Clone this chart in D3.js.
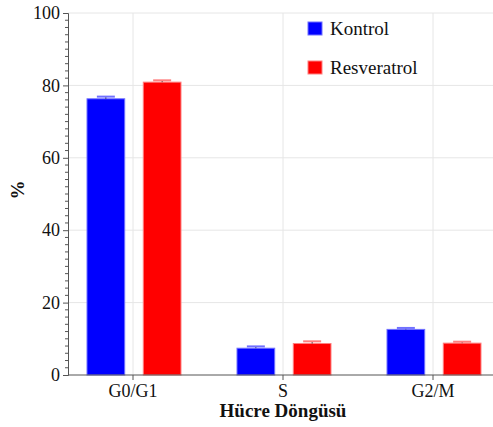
<!DOCTYPE html>
<html>
<head>
<meta charset="utf-8">
<script src="https://cdn.jsdelivr.net/npm/d3@7"></script>
<style>
  body { margin: 0; background: #fff; }
  svg text { font-family: "Liberation Serif", "Times New Roman", serif; fill: #111; }
</style>
</head>
<body>
<div id="chart"></div>
<script>
// data
const phases = ["G0/G1", "S", "G2/M"];
const groups = ["Kontrol", "Resveratrol"];
const kontrol = [76.3, 7.4, 12.6];
const kontrolErr = [0.6, 0.5, 0.4];
const resveratrol = [80.9, 8.7, 8.8];
const resveratrolErr = [0.5, 0.6, 0.4];
const yTicks = [0, 20, 40, 60, 80, 100];

const colors = { Kontrol: "#0000ff", Resveratrol: "#ff0000" };
const edge = { Kontrol: "#7070ff", Resveratrol: "#ff8080" };

const width = 493, height = 427;
const svg = d3.select("#chart").append("svg")
    .attr("width", width)
    .attr("height", height);

// scales
const y = d3.scaleLinear().domain([0, 100]).range([375, 13]);
const x = d3.scaleBand().domain(phases).range([58, 508]).padding(0);
const xSub = d3.scaleBand().domain(groups).range([29, 123]).paddingInner(0.33);

const axisLeft = 68, axisRight = 493;

// grid lines
svg.append("g").selectAll("line")
    .data(yTicks.filter(d => d > 0))
    .join("line")
    .attr("x1", axisLeft).attr("x2", axisRight)
    .attr("y1", d => y(d)).attr("y2", d => y(d))
    .attr("stroke", "#e6e6e6").attr("stroke-width", 1);

svg.append("g").selectAll("line")
    .data(phases)
    .join("line")
    .attr("x1", d => x(d) + x.bandwidth() / 2).attr("x2", d => x(d) + x.bandwidth() / 2)
    .attr("y1", y(100)).attr("y2", y(0))
    .attr("stroke", "#e6e6e6").attr("stroke-width", 1);

// flatten rows
const rows = [];
phases.forEach((p, i) => {
    rows.push({ phase: p, group: "Kontrol", value: kontrol[i], err: kontrolErr[i] });
    rows.push({ phase: p, group: "Resveratrol", value: resveratrol[i], err: resveratrolErr[i] });
});

const bx = d => x(d.phase) + xSub(d.group);

// bars
svg.append("g").selectAll("rect")
    .data(rows)
    .join("rect")
    .attr("x", d => bx(d))
    .attr("y", d => y(d.value))
    .attr("width", xSub.bandwidth())
    .attr("height", d => y(0) - y(d.value))
    .attr("fill", d => colors[d.group])
    .attr("stroke", d => edge[d.group])
    .attr("stroke-width", 1);

// error bars
const eb = svg.append("g");
eb.selectAll("line.stem")
    .data(rows)
    .join("line")
    .attr("class", "stem")
    .attr("x1", d => bx(d) + xSub.bandwidth() / 2).attr("x2", d => bx(d) + xSub.bandwidth() / 2)
    .attr("y1", d => y(d.value)).attr("y2", d => y(d.value + d.err))
    .attr("stroke", "#333").attr("stroke-width", 1);
eb.selectAll("line.cap")
    .data(rows)
    .join("line")
    .attr("class", "cap")
    .attr("x1", d => bx(d) + xSub.bandwidth() / 2 - 9).attr("x2", d => bx(d) + xSub.bandwidth() / 2 + 9)
    .attr("y1", d => y(d.value + d.err)).attr("y2", d => y(d.value + d.err))
    .attr("stroke", d => edge[d.group]).attr("stroke-width", 2);

// y axis
const yAxis = d3.axisLeft(y)
    .tickValues(yTicks)
    .tickSize(5)
    .tickPadding(3);
const gy = svg.append("g")
    .attr("transform", `translate(${axisLeft},0)`)
    .call(yAxis);
gy.attr("font-family", null);
gy.select(".domain").attr("stroke", "#555");
gy.selectAll(".tick line").attr("stroke", "#555");
gy.selectAll(".tick text")
    .attr("font-size", 18)
    .attr("fill", "#111");

// minor ticks every 2
svg.append("g").selectAll("line")
    .data(d3.range(2, 100, 2).filter(d => d % 20 !== 0))
    .join("line")
    .attr("x1", axisLeft - 3).attr("x2", axisLeft)
    .attr("y1", d => y(d)).attr("y2", d => y(d))
    .attr("stroke", "#555");

// x axis
const xAxis = d3.axisBottom(x).tickSize(5).tickSizeOuter(0).tickPadding(4);
const gx = svg.append("g")
    .attr("transform", `translate(0,${y(0)})`)
    .call(xAxis);
gx.attr("font-family", null);
gx.select(".domain").remove();
gx.append("line")
    .attr("x1", axisLeft).attr("x2", axisRight)
    .attr("stroke", "#555");
gx.selectAll(".tick line").attr("stroke", "#555");
gx.selectAll(".tick text")
    .attr("font-size", 18)
    .attr("fill", "#111");

// axis titles
svg.append("text")
    .attr("x", 283).attr("y", 417)
    .attr("text-anchor", "middle")
    .attr("font-size", 19)
    .attr("font-weight", "bold")
    .text("Hücre Döngüsü");

svg.append("text")
    .attr("transform", "translate(24,190) rotate(-90)")
    .attr("text-anchor", "middle")
    .attr("font-size", 19)
    .attr("font-weight", "bold")
    .text("%");

// legend
const legend = svg.append("g").selectAll("g")
    .data(groups)
    .join("g")
    .attr("transform", (d, i) => `translate(308,${22 + i * 39})`);
legend.append("rect")
    .attr("width", 14).attr("height", 13)
    .attr("fill", d => colors[d])
    .attr("stroke", d => edge[d]).attr("stroke-width", 1);
legend.append("text")
    .attr("x", 22).attr("y", 13)
    .attr("font-size", 19)
    .text(d => d);
</script>
</body>
</html>
